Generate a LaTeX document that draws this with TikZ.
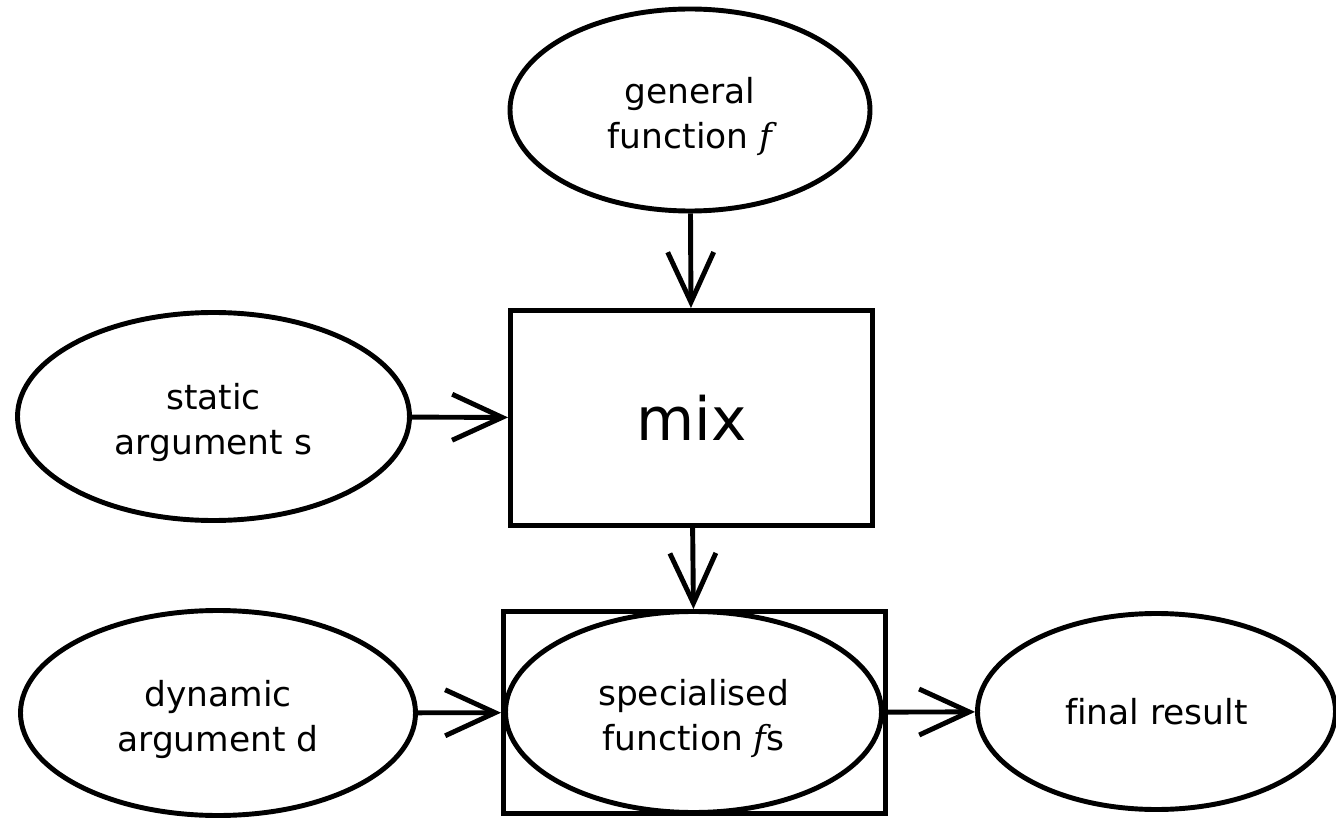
\documentclass[tikz,border=0pt]{standalone}
\usepackage{fontspec}
\setmainfont[Ligatures=NoCommon]{DejaVu Sans}
\newfontfamily\fnfont{DejaVu Serif}
\usetikzlibrary{shapes.geometric, arrows.meta}
\newcommand{\fn}{{\fnfont\itshape f}}
\newcommand{\lift}{\rule{0pt}{11pt}}

\begin{document}
\begin{tikzpicture}[font=\fontsize{9.8}{12.8}\selectfont, line width=1.4pt,
    blob/.style={draw, ellipse, align=center, inner sep=0pt},
    box/.style={draw, rectangle, inner sep=0pt},
    flow/.style={-{Straight Barb[length=5mm, width=4.6mm, sharp]}}]
    \useasboundingbox (0,0) rectangle (13.36,8.22);
    \node[blob, minimum width=3.60cm, minimum height=2.02cm] (gen) at (6.90,7.12) {\lift general\\function \fn};
    \node[box, minimum width=3.62cm, minimum height=2.15cm, font=\fontsize{17}{20}\selectfont] (mix) at (6.915,4.04) {mix};
    \node[blob, minimum width=3.92cm, minimum height=2.08cm] (static) at (2.135,4.055) {\lift static\\argument s};
    \node[box, minimum width=3.82cm, minimum height=2.02cm] (specbox) at (6.945,1.095) {};
    \node[blob, minimum width=3.76cm, minimum height=2.01cm] (spec) at (6.935,1.10) {\lift specialised\\function \fn s};
    \node[blob, minimum width=3.95cm, minimum height=2.05cm] (dynamic) at (2.18,1.09) {\lift dynamic\\argument d};
    \node[blob, minimum width=3.58cm, minimum height=1.96cm] (final) at (11.565,1.105) {final result};

    \draw[flow] (gen) -- (mix);
    \draw[flow] (static) -- (mix);
    \draw[flow] (mix) -- (specbox);
    \draw[flow] (dynamic) -- (specbox);
    \draw[flow] (specbox) -- (final);
\end{tikzpicture}
\end{document}
